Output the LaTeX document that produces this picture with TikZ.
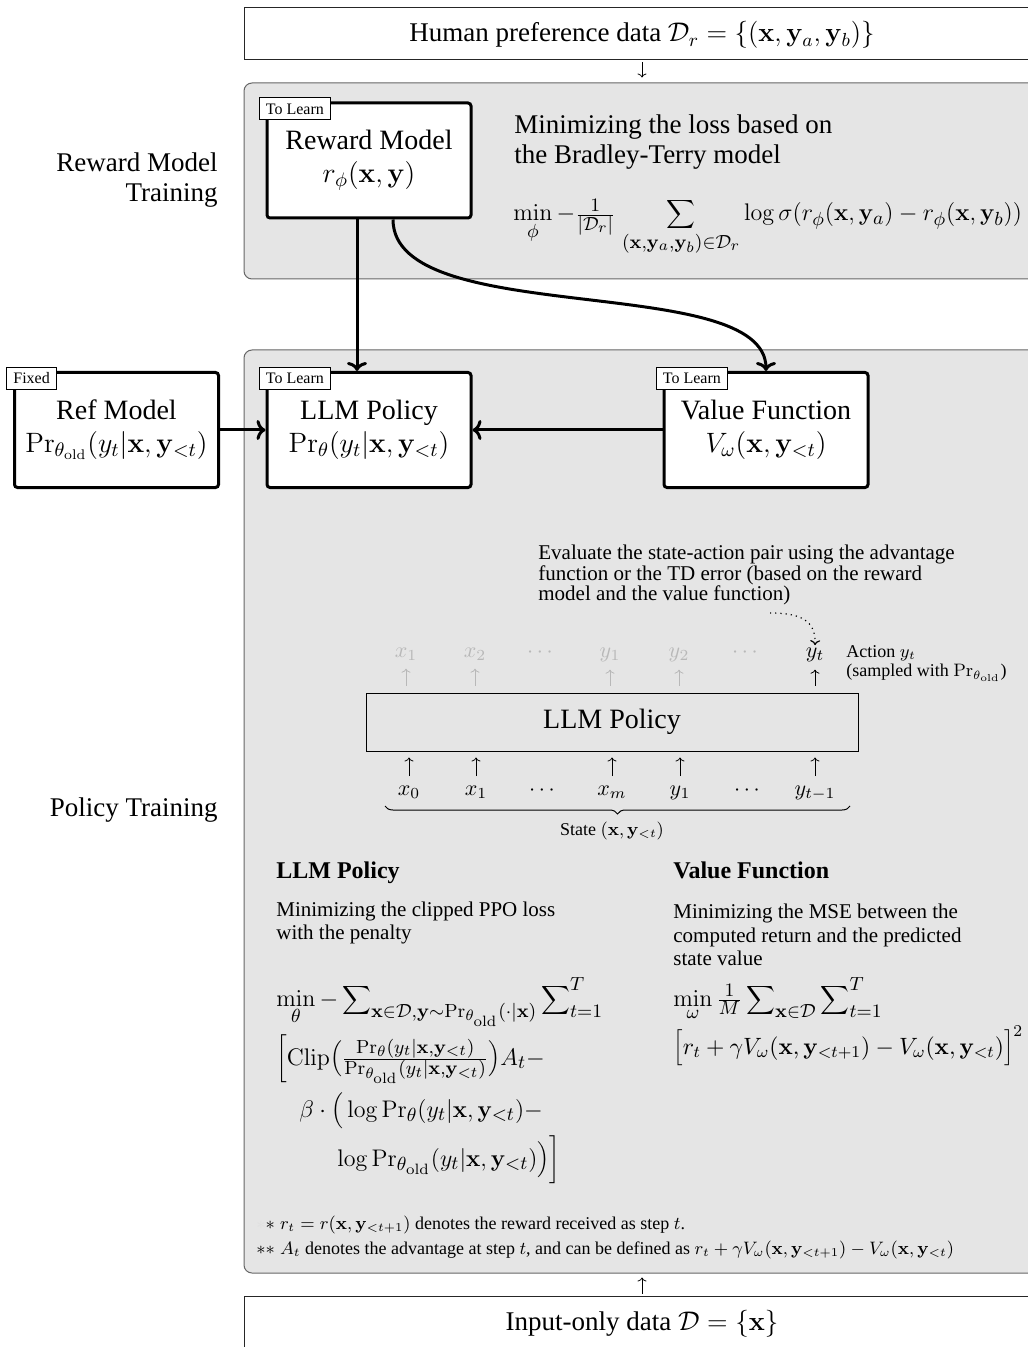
\RequirePackage{fix-cm}
\documentclass[tikz,border=0pt]{standalone}
\usepackage[no-math]{fontspec}
\setmainfont{Liberation Serif}
\DeclareMathSizes{12}{12}{9.5}{7.5}
\usetikzlibrary{arrows.meta,decorations.pathreplacing,calc}
\definecolor{panel}{gray}{0.9}
\definecolor{panelborder}{gray}{0.4}
\definecolor{faded}{gray}{0.72}
\tikzset{
  panelbox/.style={draw=panelborder, line width=0.5pt, fill=panel, rounded corners=4pt, inner sep=0pt},
  databox/.style={draw=black!85, line width=0.5pt, fill=white, inner sep=0pt, font=\fontsize{13.5}{15}\selectfont},
  modelbox/.style={draw, line width=1.5pt, fill=white, rounded corners=1.5pt, minimum width=102pt, minimum height=57.5pt, align=center, inner sep=0pt, font=\fontsize{14}{16.5}\selectfont},
  tagbox/.style={draw, line width=0.4pt, fill=white, font=\fontsize{8}{9}\selectfont, inner xsep=3.5pt, inner ysep=0pt, minimum height=11pt, anchor=north west},
  bigarrow/.style={line width=1.5pt, -{To[length=4.5pt,width=10pt]}},
  smallarrow/.style={line width=0.4pt, -{To[length=2pt,width=4.5pt]}},
  maintext/.style={font=\fontsize{13.5}{15}\selectfont, inner sep=0pt},
  medtext/.style={font=\fontsize{10.5}{11.75}\selectfont, inner sep=0pt},
  smalltext/.style={font=\fontsize{9}{9.5}\selectfont, inner sep=0pt},
  headtext/.style={font=\fontsize{12}{14}\selectfont\bfseries, inner sep=0pt},
  formula/.style={font=\fontsize{12}{14}\selectfont, inner sep=0pt},
  tok/.style={font=\fontsize{11}{13}\selectfont, inner sep=1pt, anchor=base},
  tokarrow/.style={smallarrow, shorten <=3.5pt, shorten >=3pt},
}
\begin{document}
\begin{tikzpicture}[x=0.5pt,y=-0.5pt]
\useasboundingbox (0,0) rectangle (1027,1347);

% panels
\node[panelbox, minimum width=398pt, minimum height=98pt] (rmt) at (642,181) {};
\node[panelbox, minimum width=398pt, minimum height=461.5pt] (ptr) at (642,811.5) {};

% data boxes
\node[databox, minimum width=398pt, minimum height=26pt, text depth=4pt, text height=12pt] (hpd) at (642,34)
  {Human preference data $\mathcal{D}_r=\left\{\left(\mathbf{x},\mathbf{y}_a,\mathbf{y}_b\right)\right\}$};
\node[databox, minimum width=398pt, minimum height=28pt] (iod) at (642,1324)
  {Input-only data $\mathcal{D}=\{\mathbf{x}\}$};
\draw[smallarrow, shorten <=1pt, shorten >=2.5pt] (hpd.south) -- (rmt.north);
\draw[smallarrow, shorten <=1pt, shorten >=2pt] (iod.north) -- (ptr.south);

% left labels
\node[maintext, anchor=east, align=right] (lab1) at (218,180) {Reward Model\\Training};
\node[maintext, anchor=east] (lab2) at (218,810) {Policy Training};

% model boxes
\node[modelbox] (rm) at (369,160.5) {Reward Model\\$r_\phi(\mathbf{x},\mathbf{y})$};
\node[tagbox] (rmtag) at ([xshift=-3.5pt,yshift=2pt]rm.north west) {To Learn};
\node[modelbox] (ref) at (116.5,430) {Ref Model\\$\Pr_{\theta_{\mathrm{old}}}(y_t|\mathbf{x},\mathbf{y}_{<t})$};
\node[tagbox] (reftag) at ([xshift=-3.5pt,yshift=2pt]ref.north west) {Fixed};
\node[modelbox] (llm) at (369,430) {LLM Policy\\$\Pr_{\theta}(y_t|\mathbf{x},\mathbf{y}_{<t})$};
\node[tagbox] (llmtag) at ([xshift=-3.5pt,yshift=2pt]llm.north west) {To Learn};
\node[modelbox] (vf) at (766,430) {Value Function\\$V_\omega(\mathbf{x},\mathbf{y}_{<t})$};
\node[tagbox] (vftag) at ([xshift=-3.5pt,yshift=2pt]vf.north west) {To Learn};

% reward text
\node[maintext, anchor=west, align=left] (rtext) at (514,142) {Minimizing the loss based on\\the Bradley-Terry model};
\node[formula, anchor=base west] (rform) at (513,221)
  {$\min\limits_{\phi}-\frac{1}{|\mathcal{D}_r|}\;{\displaystyle\sum_{(\mathbf{x},\mathbf{y}_a,\mathbf{y}_b)\in\mathcal{D}_r}}\log\sigma(r_\phi(\mathbf{x},\mathbf{y}_a)-r_\phi(\mathbf{x},\mathbf{y}_b))$};

% thick connectors
\draw[bigarrow] ([xshift=-6pt]rm.south) -- ([xshift=-6pt]llm.north);
\draw[bigarrow] ([xshift=12pt]rm.south) .. controls +(0,110) and +(0,-100) .. (vf.north);
\draw[bigarrow] (ref.east) -- (llm.west);
\draw[bigarrow] (vf.west) -- (llm.east);

% evaluate text
\node[font=\fontsize{10.5}{10.3}\selectfont, inner sep=0pt, anchor=west, align=left] (eval) at (538,575)
  {Evaluate the state-action pair using the advantage\\function or the TD error (based on the reward\\model and the value function)};

% inner policy box
\node[draw, line width=0.5pt, minimum width=246pt, minimum height=29pt, inner sep=0pt, font=\fontsize{14}{16}\selectfont] (pol) at (612,722) {LLM Policy};

% output tokens
\node[tok, text=faded] (o1) at (406,657) {$x_1$};
\node[tok, text=faded] (o2) at (475,657) {$x_2$};
\node[tok, text=faded] (o3) at (540,657) {$\cdots$};
\node[tok, text=faded] (o4) at (610,657) {$y_1$};
\node[tok, text=faded] (o5) at (679,657) {$y_2$};
\node[tok, text=faded] (o6) at (745,657) {$\cdots$};
\node[tok] (yt) at (815,657) {$y_t$};
\foreach \n in {o1,o2,o4,o5} {
  \draw[tokarrow, draw=faded] (\n |- pol.north) -- (\n.south);
}
\draw[tokarrow] (yt |- pol.north) -- (yt.south);

\node[smalltext, anchor=west, align=left] (act) at (846,664)
  {Action $y_t$\\(sampled with $\Pr_{\theta_{\mathrm{old}}}$)};

\coordinate (dstart) at (770,613);
\draw[dotted, line width=0.6pt, -{To[length=2.5pt,width=5pt]}] (dstart) .. controls (800,613) and (816,620) .. (yt.north);

% input tokens
\node[tok] (i0) at (409,795) {$x_0$};
\node[tok] (i1) at (476,795) {$x_1$};
\node[tok] (i2) at (542,795) {$\cdots$};
\node[tok] (i3) at (612,795) {$x_m$};
\node[tok] (i4) at (680,795) {$y_1$};
\node[tok] (i5) at (747,795) {$\cdots$};
\node[tok] (i6) at (815,795) {$y_{t-1}$};
\foreach \n in {i0,i1,i3,i4,i6} {
  \draw[tokarrow] (\n.north) -- (\n |- pol.south);
}

\coordinate (bl) at (385,806);
\coordinate (br) at (850,806);
\draw[decorate, decoration={brace, mirror, amplitude=4pt}, line width=0.5pt] (bl) -- (br);
\node[smalltext] (state) at (612,831) {State $(\mathbf{x},\mathbf{y}_{<t})$};

% policy objective
\node[headtext, anchor=base west] (lpH) at (276,878) {LLM Policy};
\node[medtext, anchor=west, align=left] (lpT) at (276,923) {Minimizing the clipped PPO loss\\with the penalty};
\node[formula, anchor=base west] (lp1) at (276,1006)
  {$\min\limits_{\theta} -\,{\displaystyle\sum\nolimits_{\mathbf{x}\in\mathcal{D},\mathbf{y}\sim\Pr_{\theta_{\mathrm{old}}}(\cdot|\mathbf{x})}\sum\nolimits_{t=1}^{T}}$};
\node[formula, anchor=base west] (lp2) at (276,1065)
  {$\bigg[\mathrm{Clip}\Big(\frac{\Pr_\theta(y_t|\mathbf{x},\mathbf{y}_{<t})}{\Pr_{\theta_{\mathrm{old}}}(y_t|\mathbf{x},\mathbf{y}_{<t})}\Big)A_t-$};
\node[formula, anchor=base west] (lp3) at (299,1117)
  {$\beta\cdot\Big(\log\Pr_\theta(y_t|\mathbf{x},\mathbf{y}_{<t})-$};
\node[formula, anchor=base west] (lp4) at (337,1166)
  {$\log\Pr_{\theta_{\mathrm{old}}}(y_t|\mathbf{x},\mathbf{y}_{<t})\Big)\bigg]$};

% value objective
\node[headtext, anchor=base west] (vfH) at (673,878) {Value Function};
\node[medtext, anchor=west, align=left] (vfT) at (673,935) {Minimizing the MSE between the\\computed return and the predicted\\state value};
\node[formula, anchor=base west] (vf1) at (673,1006)
  {$\min\limits_{\omega}\frac{1}{M}\,{\displaystyle\sum\nolimits_{\mathbf{x}\in\mathcal{D}}\sum\nolimits_{t=1}^{T}}$};
\node[font=\fontsize{11.8}{14}\selectfont, inner sep=0pt, anchor=base west] (vf2) at (673,1054)
  {$\Big[r_t+\gamma V_\omega(\mathbf{x},\mathbf{y}_{<t+1})-V_\omega(\mathbf{x},\mathbf{y}_{<t})\Big]^2$};

% footnotes
\node[smalltext, anchor=base west] (fn1) at (256,1229)
  {{\color{black!12}$*$}$*\;r_t=r(\mathbf{x},\mathbf{y}_{<t+1})$ denotes the reward received as step $t$.};
\node[smalltext, anchor=base west] (fn2) at (256,1254)
  {$*{*}\;A_t$ denotes the advantage at step $t$, and can be defined as $r_t+\gamma V_\omega(\mathbf{x},\mathbf{y}_{<t+1})-V_\omega(\mathbf{x},\mathbf{y}_{<t})$};
\end{tikzpicture}
\end{document}
